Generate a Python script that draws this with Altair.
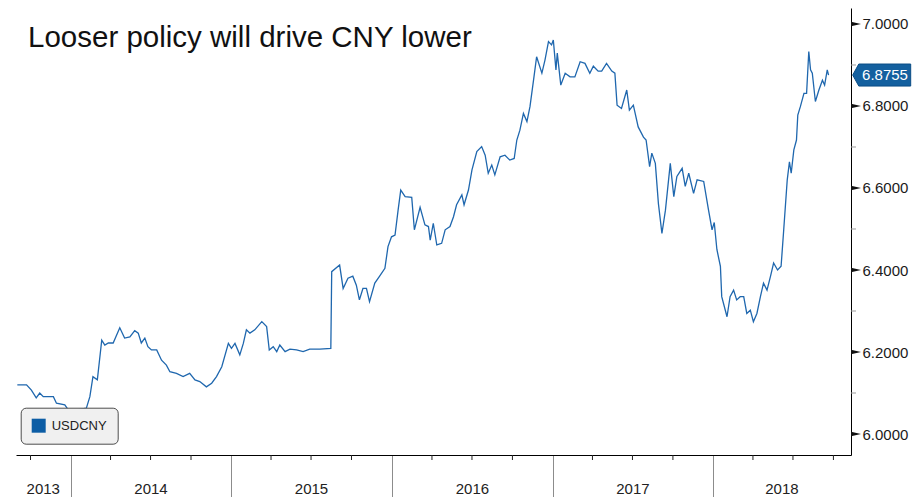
import altair as alt
import pandas as pd

# USDCNY fixing, sampled
dates = [
    "2013-09-01", "2013-09-22", "2013-10-03", "2013-10-14", "2013-10-22", "2013-10-30",
    "2013-11-22", "2013-11-29", "2013-12-18", "2013-12-29", "2014-01-14", "2014-02-05",
    "2014-02-13", "2014-02-20", "2014-03-02", "2014-03-12", "2014-03-19", "2014-03-27",
    "2014-04-07", "2014-04-22", "2014-05-03", "2014-05-15", "2014-05-26", "2014-06-03",
    "2014-06-10", "2014-06-18", "2014-06-25", "2014-07-03", "2014-07-15", "2014-07-26",
    "2014-08-06", "2014-08-14", "2014-08-29", "2014-09-13", "2014-09-28", "2014-10-10",
    "2014-10-21", "2014-11-05", "2014-11-17", "2014-11-28", "2014-12-10", "2014-12-25",
    "2015-01-01", "2015-01-09", "2015-01-20", "2015-01-28", "2015-02-04", "2015-02-12",
    "2015-02-23", "2015-03-11", "2015-03-22", "2015-03-28", "2015-04-06", "2015-04-14",
    "2015-04-21", "2015-05-03", "2015-05-14", "2015-05-29", "2015-06-13", "2015-06-28",
    "2015-07-21", "2015-08-15", "2015-08-17", "2015-09-04", "2015-09-12", "2015-09-23",
    "2015-10-04", "2015-10-12", "2015-10-19", "2015-10-27", "2015-11-04", "2015-11-11",
    "2015-11-23", "2015-12-04", "2015-12-16", "2015-12-23", "2015-12-31", "2016-01-08",
    "2016-01-15", "2016-01-21", "2016-01-31", "2016-02-15", "2016-02-21", "2016-03-05",
    "2016-03-16", "2016-03-24", "2016-03-28", "2016-04-04", "2016-04-12", "2016-04-23",
    "2016-05-01", "2016-05-12", "2016-05-20", "2016-05-27", "2016-06-08", "2016-06-13",
    "2016-06-23", "2016-07-01", "2016-07-12", "2016-07-23", "2016-07-31", "2016-08-07",
    "2016-08-15", "2016-08-22", "2016-09-03", "2016-09-14", "2016-09-25", "2016-10-05",
    "2016-10-11", "2016-10-18", "2016-10-26", "2016-11-03", "2016-11-10", "2016-11-18",
    "2016-11-25", "2016-12-07", "2016-12-14", "2016-12-22", "2016-12-29", "2017-01-02",
    "2017-01-08", "2017-01-11", "2017-01-19", "2017-01-29", "2017-02-09", "2017-02-20",
    "2017-03-04", "2017-03-15", "2017-03-26", "2017-04-03", "2017-04-14", "2017-04-22",
    "2017-05-03", "2017-05-15", "2017-05-22", "2017-05-27", "2017-06-06", "2017-06-18",
    "2017-06-24", "2017-07-03", "2017-07-14", "2017-07-26", "2017-08-01", "2017-08-09",
    "2017-08-14", "2017-08-22", "2017-08-29", "2017-09-06", "2017-09-14", "2017-09-25",
    "2017-10-03", "2017-10-10", "2017-10-22", "2017-10-29", "2017-11-06", "2017-11-17",
    "2017-11-25", "2017-12-10", "2017-12-21", "2017-12-29", "2018-01-03", "2018-01-09",
    "2018-01-17", "2018-01-20", "2018-02-01", "2018-02-08", "2018-02-16", "2018-02-23",
    "2018-03-03", "2018-03-11", "2018-03-18", "2018-03-26", "2018-04-02", "2018-04-10",
    "2018-04-18", "2018-04-25", "2018-05-03", "2018-05-11", "2018-05-18", "2018-05-27",
    "2018-06-04", "2018-06-10", "2018-06-18", "2018-06-23", "2018-06-27", "2018-07-03",
    "2018-07-09", "2018-07-12", "2018-07-18", "2018-07-26", "2018-08-01", "2018-08-06",
    "2018-08-10", "2018-08-14", "2018-08-21", "2018-08-29", "2018-09-06", "2018-09-11",
    "2018-09-17", "2018-09-20",
]
usdcny = [
    6.120, 6.120, 6.107, 6.088, 6.100, 6.091,
    6.091, 6.075, 6.071, 6.054, 6.059, 6.063,
    6.091, 6.140, 6.132, 6.229, 6.217, 6.222,
    6.222, 6.259, 6.234, 6.237, 6.252, 6.246,
    6.222, 6.234, 6.213, 6.205, 6.205, 6.180,
    6.168, 6.152, 6.148, 6.140, 6.148, 6.132,
    6.128, 6.115, 6.124, 6.140, 6.164, 6.221,
    6.209, 6.221, 6.193, 6.221, 6.254, 6.246,
    6.254, 6.274, 6.262, 6.205, 6.213, 6.201,
    6.217, 6.201, 6.207, 6.205, 6.201, 6.207,
    6.207, 6.209, 6.396, 6.412, 6.355, 6.380,
    6.385, 6.363, 6.327, 6.355, 6.355, 6.323,
    6.368, 6.385, 6.404, 6.457, 6.481, 6.485,
    6.546, 6.595, 6.579, 6.577, 6.498, 6.553,
    6.510, 6.506, 6.473, 6.514, 6.461, 6.465,
    6.498, 6.506, 6.530, 6.559, 6.583, 6.559,
    6.595, 6.644, 6.689, 6.701, 6.680, 6.636,
    6.656, 6.632, 6.676, 6.680, 6.668, 6.672,
    6.717, 6.741, 6.782, 6.762, 6.799, 6.863,
    6.920, 6.880, 6.912, 6.957, 6.949, 6.961,
    6.888, 6.929, 6.851, 6.880, 6.871, 6.871,
    6.908, 6.904, 6.880, 6.897, 6.885, 6.885,
    6.904, 6.885, 6.880, 6.802, 6.794, 6.839,
    6.790, 6.802, 6.749, 6.724, 6.717, 6.652,
    6.685, 6.660, 6.562, 6.489, 6.546, 6.660,
    6.579, 6.628, 6.648, 6.604, 6.636, 6.587,
    6.620, 6.616, 6.546, 6.498, 6.516, 6.450,
    6.409, 6.335, 6.286, 6.335, 6.351, 6.327,
    6.335, 6.335, 6.294, 6.302, 6.274, 6.294,
    6.335, 6.368, 6.351, 6.385, 6.417, 6.400,
    6.409, 6.498, 6.620, 6.664, 6.636, 6.693,
    6.717, 6.778, 6.799, 6.831, 6.831, 6.933,
    6.888, 6.880, 6.811, 6.839, 6.863, 6.851,
    6.888, 6.8755,
]

title_text = "Looser policy will drive CNY lower"
series_name = "USDCNY"

major_ticks = [6.0, 6.2, 6.4, 6.6, 6.8, 7.0]
minor_ticks = [6.1, 6.3, 6.5, 6.7, 6.9]
year_labels = ["2013", "2014", "2015", "2016", "2017", "2018"]
year_starts = ["2014-01-01", "2015-01-01", "2016-01-01", "2017-01-01", "2018-01-01"]
x_start, x_end = "2013-08-29", "2018-11-10"
y_min, y_max = 5.9488, 7.039

W, H = 835, 447
BLUE = "#1f67ae"
TAG_BLUE = "#14609f"
FONT = "Liberation Sans"


def ms(d):
    return int(pd.Timestamp(d).timestamp() * 1000)


series = pd.DataFrame({"date": dates, "value": usdcny, "series": series_name})

# year labels sit in the middle of the visible part of each year
bounds = [pd.Timestamp(x_start)] + [pd.Timestamp(d) for d in year_starts] + [pd.Timestamp(x_end)]
mids = [a + (b - a) / 2 for a, b in zip(bounds[:-1], bounds[1:])]
years_df = pd.DataFrame({"date": [m.strftime("%Y-%m-%d") for m in mids], "label": year_labels})

quarters = [d for d in pd.date_range("2013-10-01", "2018-10-01", freq="QS") if d.month != 1]
quarters_df = pd.DataFrame({"date": [d.strftime("%Y-%m-%d") for d in quarters]})

x_scale = alt.Scale(domain=[ms(x_start), ms(x_end)])
y_scale = alt.Scale(domain=[y_min, y_max], nice=False, zero=False)

# the same axis objects go on every layer so the layers share one axis per channel
x_axis = alt.Axis(
    values=[ms(d) for d in year_starts], labels=False, tickSize=42, tickColor="#8c8c8c",
    tickWidth=1, domainColor="#000000", domainWidth=1, grid=False, title=None,
)
y_axis = alt.Axis(
    orient="right", values=major_ticks, format=".4f", ticks=False, labelPadding=11,
    labelFontSize=15, labelFont=FONT, labelColor="#1a1a1a", domainColor="#000000",
    domainWidth=1, grid=False, title=None, labelOverlap=False,
)

X = alt.X("date:T", scale=x_scale, axis=x_axis, title=None)
Y = alt.Y("value:Q", scale=y_scale, axis=y_axis, title=None)

line = alt.Chart(series).mark_line(strokeWidth=1.3).encode(
    x=X,
    y=Y,
    color=alt.Color(
        "series:N",
        scale=alt.Scale(range=[BLUE]),
        legend=alt.Legend(
            orient="none", legendX=4.7, legendY=399.7, title=None,
            fillColor="#f0f0f0", strokeColor="#4d4d4d", cornerRadius=5, padding=11,
            symbolType="square", symbolSize=196, symbolFillColor="#0c5da5",
            symbolStrokeColor="#0c5da5", symbolStrokeWidth=0,
            labelFontSize=13, labelFont=FONT, labelColor="#222222", labelOffset=6,
        ),
    ),
)

# major y ticks drawn as small arrowheads, minor ones as light dashes
major_df = pd.DataFrame({"value": major_ticks})
minor_df = pd.DataFrame({"value": minor_ticks})

major_marks = alt.Chart(major_df).mark_point(
    shape="M-1,-0.45L1,0L-1,0.45Z", size=100, filled=True, color="#111111", opacity=1
).encode(x=alt.value(W + 5), y=Y)

minor_marks = alt.Chart(minor_df).mark_rule(color="#9a9a9a", strokeWidth=1).encode(
    x=alt.value(W), x2=alt.value(W + 5), y=Y
)

# last value tag on the axis
tag_df = pd.DataFrame({"value": [usdcny[-1]], "label": [f"{usdcny[-1]:.4f}"]})
tag = alt.Chart(tag_df).mark_point(
    shape="M-1,0L-0.79,-0.38L1,-0.38L1,0.38L-0.79,0.38Z", size=3364, filled=True,
    fill=TAG_BLUE, stroke="#0b4d85", strokeWidth=1, opacity=1,
).encode(x=alt.value(W + 30.7), y=Y)
tag_text = alt.Chart(tag_df).mark_text(
    align="center", baseline="middle", font=FONT, fontSize=15, color="#ffffff"
).encode(x=alt.value(W + 34), y=Y, text="label:N")

# x axis: year labels and quarter ticks
year_text = alt.Chart(years_df).mark_text(
    align="center", baseline="middle", font=FONT, fontSize=15, color="#222222"
).encode(x=X, y=alt.value(H + 34), text="label:N")
quarter_marks = alt.Chart(quarters_df).mark_rule(color="#222222", strokeWidth=1).encode(
    x=X, y=alt.value(H), y2=alt.value(H + 5)
)

title = alt.Chart(pd.DataFrame({"text": [title_text]})).mark_text(
    align="left", baseline="alphabetic", font=FONT, fontSize=29.5, color="#111111"
).encode(x=alt.value(12), y=alt.value(38.7), text="text:N")

chart = alt.layer(
    line, minor_marks, major_marks, tag, tag_text, year_text, quarter_marks, title
).properties(
    width=W, height=H,
    autosize=alt.AutoSizeParams(type="none"),
    padding={"left": 16, "top": 8, "right": 62, "bottom": 42},
    background="#ffffff",
).configure_view(stroke=None).configure_axis(labelFont=FONT)

chart.save("out.html", embed_options={"renderer": "svg", "actions": False})
